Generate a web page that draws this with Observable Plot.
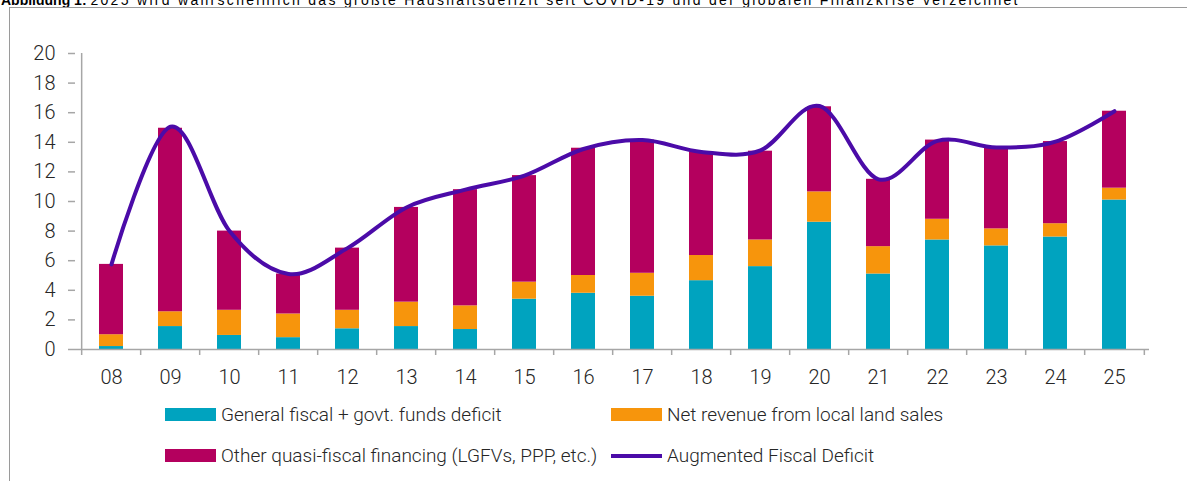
<!DOCTYPE html>
<html><head><meta charset="utf-8">
<script src="https://cdn.jsdelivr.net/npm/d3@7"></script>
<script src="https://cdn.jsdelivr.net/npm/@observablehq/plot@0.6"></script>
<style>
body{margin:0;background:#fff;}
#wrap{position:relative;width:1187px;height:481px;overflow:hidden;font-family:Roboto,sans-serif;background:#fff;}
#title{position:absolute;left:1px;top:-7px;font-family:"Liberation Sans",Arial,sans-serif;font-size:14px;line-height:14px;color:#000;white-space:nowrap;}
#title span{letter-spacing:2.3px;}
#frame{position:absolute;left:9px;top:7px;width:1300px;height:600px;border-top:1px solid #9a9a9a;border-left:1px solid #9a9a9a;}
#chart{position:absolute;left:0;top:0;}
.sw{position:absolute;}
.lt{position:absolute;height:24px;line-height:24px;font-size:19px;font-weight:300;color:#262626;white-space:nowrap;}
</style></head><body>
<div id="wrap">
<div id="title"><b>Abbildung 1:</b> <span>2025 wird wahrscheinlich das größte Haushaltsdefizit seit COVID-19 und der globalen Finanzkrise verzeichnet</span></div>
<div id="frame"></div>
<div id="chart"></div>
<div id="legend"></div>
</div>
<script>
const years = ["08","09","10","11","12","13","14","15","16","17","18","19","20","21","22","23","24","25"];
const seriesNames = ["General fiscal + govt. funds deficit","Net revenue from local land sales","Other quasi-fiscal financing (LGFVs, PPP, etc.)"];
const lineName = "Augmented Fiscal Deficit";
const generalDeficit = [0.2,1.55,0.95,0.8,1.4,1.55,1.35,3.4,3.8,3.6,4.65,5.6,8.6,5.1,7.4,7.0,7.6,10.1];
const landSales = [0.8,1.0,1.7,1.6,1.25,1.65,1.6,1.15,1.2,1.55,1.7,1.8,2.05,1.85,1.4,1.15,0.9,0.8];
const quasiFiscal = [4.75,12.4,5.35,2.7,4.2,6.4,7.85,7.2,8.6,9.0,7.0,6.0,5.75,4.55,5.35,5.5,5.55,5.2];
const augmented = [5.75,15.05,8.0,5.1,6.85,9.6,10.8,11.75,13.55,14.15,13.35,13.45,16.45,11.5,14.1,13.65,14.05,16.1];
const yTicks = [0,2,4,6,8,10,12,14,16,18,20];
const colors = ["#00a3bf","#f7950c","#b4005e"];
const lineColor = "#4b0ba8";

const seriesValues = [generalDeficit, landSales, quasiFiscal];
const barData = [];
seriesNames.forEach((s, si) => years.forEach((y, i) => barData.push({year: y, series: s, value: seriesValues[si][i]})));
const lineData = years.map((y, i) => ({year: y, value: augmented[i]}));

const W = 1187, ML = 75, MR = 38, MT = 53, MB = 50, H = 349 + MB;
const step = (W - ML - MR) / years.length;
const axisColor = "#a6a6a6";

const chart = Plot.plot({
  width: W, height: H,
  marginLeft: ML, marginRight: MR, marginTop: MT, marginBottom: MB,
  style: {fontFamily: "Roboto, sans-serif", fontSize: "20px", fontWeight: 300, color: "#262626", background: "transparent", overflow: "visible"},
  x: {type: "band", domain: years, paddingInner: 0.6, paddingOuter: 0.3, label: null},
  y: {domain: [0, 20], label: null},
  color: {domain: seriesNames, range: colors},
  marks: [
    Plot.barY(barData, {x: "year", y: "value", fill: "series"}),
    Plot.ruleY([0], {stroke: axisColor, strokeWidth: 1.5}),
    Plot.ruleX([years[0]], {dx: -step / 2, y1: 0, y2: 20, stroke: axisColor, strokeWidth: 1.5}),
    Plot.axisY({ticks: yTicks, tickSize: 7, tickPadding: 13, stroke: axisColor, strokeWidth: 1.5, fill: "#262626", label: null}),
    Plot.axisX({tickSize: 6, dx: -step / 2, text: null, stroke: axisColor, strokeWidth: 1.5, label: null}),
    Plot.axisX([years[years.length - 1]], {tickSize: 6, dx: step / 2, text: null, stroke: axisColor, strokeWidth: 1.5, label: null}),
    Plot.axisX({tickSize: 0, tickPadding: 20, fill: "#262626", label: null}),
    Plot.line(lineData, {x: "year", y: "value", curve: "cardinal", stroke: lineColor, strokeWidth: 4})
  ]
});
document.getElementById("chart").appendChild(chart);

const legend = document.getElementById("legend");
const items = [
  {name: seriesNames[0], color: colors[0], type: "rect", x: 165, y: 415},
  {name: seriesNames[1], color: colors[1], type: "rect", x: 611, y: 415},
  {name: seriesNames[2], color: colors[2], type: "rect", x: 165, y: 456},
  {name: lineName, color: lineColor, type: "line", x: 611, y: 456}
];
items.forEach(it => {
  const sw = document.createElement("div");
  sw.className = "sw";
  sw.style.left = it.x + "px";
  sw.style.width = "51px";
  sw.style.background = it.color;
  if (it.type === "rect") { sw.style.top = (it.y - 7) + "px"; sw.style.height = "13px"; }
  else { sw.style.top = (it.y - 2) + "px"; sw.style.height = "3.5px"; }
  legend.appendChild(sw);
  const t = document.createElement("div");
  t.className = "lt";
  t.style.left = (it.x + 56) + "px";
  t.style.top = (it.y - 12) + "px";
  t.textContent = it.name;
  legend.appendChild(t);
});
</script>
</body></html>
